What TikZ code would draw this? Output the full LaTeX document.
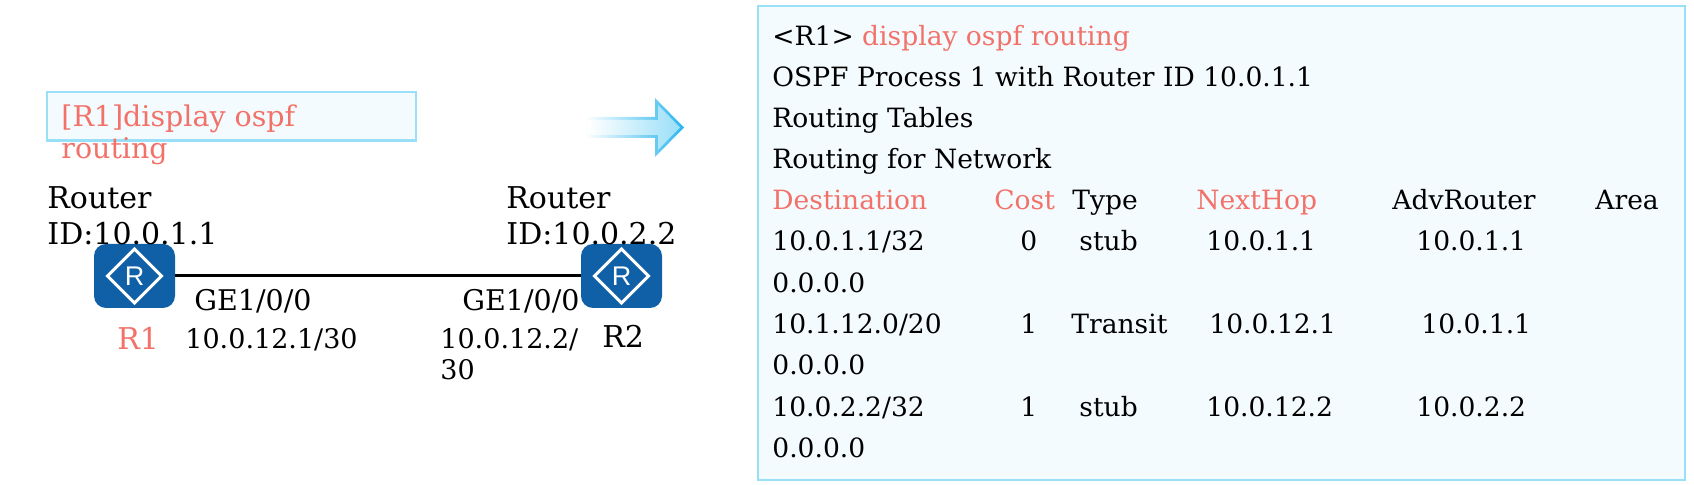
\documentclass[tikz,border=0pt]{standalone}
\usepackage{fontspec}
\setmainfont{DejaVu Serif}
\setsansfont{Liberation Sans}
\tikzset{
  txt/.style={anchor=base west, inner sep=0pt, font=\fontsize{13.27}{16}\selectfont},
  iptxt/.style={txt, font=\fontsize{13.5}{16}\selectfont},
  midtxt/.style={txt, font=\fontsize{14.25}{17}\selectfont},
  bigtxt/.style={txt, font=\fontsize{15}{18}\selectfont},
  routericon/.style={fill=colorrouter, rounded corners=6pt, minimum width=40.5pt, minimum height=32pt, inner sep=0pt},
}
\begin{document}
\begin{tikzpicture}[x=0.5pt,y=-0.5pt]
% Define colors
\definecolor{colorrouter}{HTML}{1060A8}
\definecolor{colorframe}{HTML}{9ADFF8}
\definecolor{colorpanel}{HTML}{F3FBFE}
\definecolor{colorcmd}{HTML}{F2726A}
\definecolor{colorarrow}{HTML}{29B6EE}
\useasboundingbox (0,0) rectangle (1694,485);
  % Boxes
  \draw[colorframe, fill=colorpanel, line width=1.1pt] (47,92) rectangle (416,140.5);
  \draw[colorframe, fill=colorpanel, line width=1.1pt] (758,6) rectangle (1685,480);
  % Arrow between the two
  \shade[left color=white, middle color=colorframe!70, right color=colorarrow] (585,117) -- (655,117) -- (655,98) -- (684,127.5) -- (655,157) -- (655,138) -- (585,138) -- cycle;
  \shade[left color=white, middle color=colorpanel, right color=colorframe] (588,120) -- (658,120) -- (658,105) -- (680,127.5) -- (658,150) -- (658,135) -- (588,135) -- cycle;
  % Routers
  \node[routericon] (R1) at (134.5,276) {};
  \node[routericon] (R2) at (621.5,276) {};
  \draw[line width=1.5pt] (R1) -- (R2);
  \foreach \r in {R1,R2}{
    \begin{scope}[shift={(\r.center)}]
      \draw[white, line width=1.5pt] (-27,0) -- (0,-27) -- (27,0) -- (0,27) -- cycle;
      \node[inner sep=0pt, text=white, font=\sffamily\fontsize{13.5}{13.5}\selectfont] (\r text) at (0,0) {R};
    \end{scope}
  }
  % Left side labels
  \node[midtxt, text=colorcmd] (cmdA) at (61,127) {[R1]display ospf};
  \node[midtxt, text=colorcmd] (cmdB) at (61,159) {routing};
  \node[bigtxt] (idA) at (47,209) {Router};
  \node[bigtxt] (idB) at (47,245) {ID:10.0.1.1};
  \node[bigtxt] (idC) at (506,209) {Router};
  \node[bigtxt] (idD) at (506,245) {ID:10.0.2.2};
  \node[midtxt] (portA) at (194,311) {GE1/0/0};
  \node[midtxt] (portB) at (462,311) {GE1/0/0};
  \node[bigtxt, text=colorcmd] (nameA) at (117,350) {R1};
  \node[bigtxt] (nameB) at (602,348) {R2};
  \node[iptxt] (ipA) at (185,349) {10.0.12.1/30};
  \node[iptxt] (ipB) at (440,349) {10.0.12.2/};
  \node[iptxt] (ipC) at (440,380) {30};
  % Output lines
  \node[txt] (line1) at (772,46) {<R1> \textcolor{colorcmd}{display ospf routing}};
  \node[txt] (line2) at (772,87) {OSPF Process 1 with Router ID 10.0.1.1};
  \node[txt] (line3) at (772,128) {Routing Tables};
  \node[txt] (line4) at (772,169) {Routing for Network};
  % Table head
  \node[txt, text=colorcmd] (headA) at (772,210) {Destination};
  \node[txt, text=colorcmd] (headB) at (994,210) {Cost};
  \node[txt] (headC) at (1072,210) {Type};
  \node[txt, text=colorcmd] (headD) at (1196,210) {NextHop};
  \node[txt] (headE) at (1392,210) {AdvRouter};
  \node[txt] (headF) at (1595,210) {Area};
  % Table rows
  \foreach \x/\t in {772/{10.0.1.1/32},1020/0,1079/stub,1206/10.0.1.1,1416/10.0.1.1}
    \node[txt] (rowA\x) at (\x,251) {\t};
  \node[txt] (areaA) at (772,293) {0.0.0.0};
  \foreach \x/\t in {772/{10.1.12.0/20},1020/1,1071/Transit,1209/10.0.12.1,1421/10.0.1.1}
    \node[txt] (rowB\x) at (\x,334) {\t};
  \node[txt] (areaB) at (772,375) {0.0.0.0};
  \foreach \x/\t in {772/{10.0.2.2/32},1020/1,1079/stub,1206/10.0.12.2,1416/10.0.2.2}
    \node[txt] (rowC\x) at (\x,417) {\t};
  \node[txt] (areaC) at (772,458) {0.0.0.0};
\end{tikzpicture}
\end{document}
